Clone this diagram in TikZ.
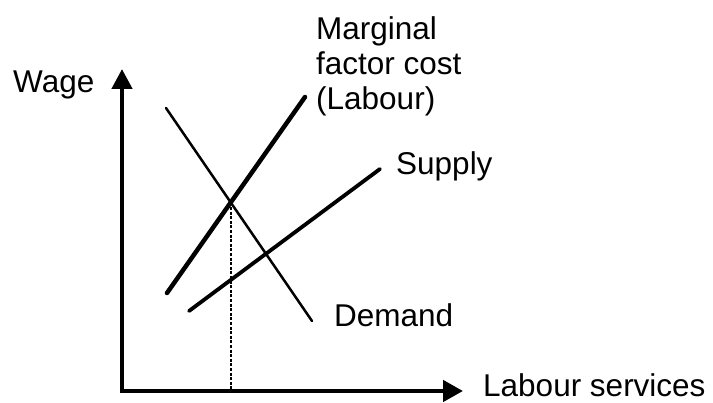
\documentclass[tikz,border=0pt]{standalone}
\usepackage{fontspec}
\setmainfont{Liberation Sans}
\usetikzlibrary{arrows.meta, positioning, calc}
\tikzset{
	axis/.style     ={line width=4.5pt, {Triangle[length=20pt, width=20pt]}-{Triangle[length=20pt, width=21pt]}},
	curve/.style    ={line width=2.5pt, line cap=round},
	heavycurve/.style={line width=4.5pt, line cap=round},
	guide/.style    ={line width=1.2pt, dash pattern=on 3pt off 1.6pt},
	lbl/.style      ={inner sep=0pt, anchor=base west, align=left},
}
\begin{document}
\begin{tikzpicture}[x=1pt, y=-1pt, font=\fontsize{31.5}{35}\selectfont]
	\useasboundingbox (0,0) rectangle (713,403);
	% axes
	\coordinate (origin) at (122,391);
	\coordinate (ytip) at (122,69);
	\coordinate (xtip) at (463,391);
	\draw[axis] (ytip) |- (xtip);
	% curves
	\coordinate (dA) at (166,108);
	\coordinate (dB) at (312,321);
	\coordinate (mA) at (167,293);
	\coordinate (mB) at (305,97);
	\coordinate (sA) at (189,311);
	\coordinate (sB) at (380,169);
	\coordinate (eq) at (231,202.5);
	\draw[curve] (dA) -- (dB);
	\draw[heavycurve] (mA) -- (mB);
	\draw[heavycurve, line width=3.8pt] (sA) -- (sB);
	\draw[guide] (eq) -- (eq |- origin);
	% labels
	\node[lbl] (wage) at (13,93) {Wage};
	\node[lbl, anchor=north west] (mfc) at (316,16) {Marginal\\factor cost\\(Labour)};
	\node[lbl] (supply) at (396,175) {Supply};
	\node[lbl] (demand) at (334,327) {Demand};
	\node[lbl] (labour) at (483,397) {Labour services};
\end{tikzpicture}
\end{document}
